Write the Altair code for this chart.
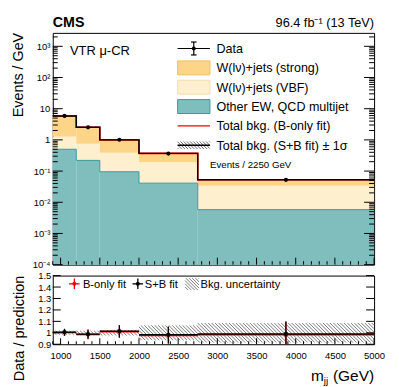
import math
import altair as alt
import pandas as pd

FONT = "Liberation Sans"

# ---------------- data ----------------
bin_lo = [900, 1200, 1500, 2000, 2750]
bin_hi = [1200, 1500, 2000, 2750, 5000]
other_ew_qcd = [0.50, 0.22, 0.095, 0.041, 0.0058]
w_vbf = [0.77, 0.53, 0.295, 0.150, 0.028]
w_strong = [4.58, 1.80, 0.61, 0.179, 0.0192]
data_vals = [5.88, 2.52, 1.01, 0.364, 0.0525]
data_err = [0.17, 0.10, 0.05, 0.026, 0.0058]
ratio_sb = [1.005, 0.988, 1.014, 0.983, 0.990]
ratio_sb_err = [0.030, 0.040, 0.053, 0.073, 0.110]
ratio_b = [1.003, 0.985, 1.010, 0.976, 0.983]
ratio_b_err = [0.031, 0.041, 0.055, 0.075, 0.112]
bkg_unc = [0.018, 0.018, 0.024, 0.065, 0.085]

legend_labels = ["Data", "W(l\u03bd)+jets (strong)", "W(l\u03bd)+jets (VBF)",
                 "Other EW, QCD multijet", "Total bkg. (B-only fit)",
                 "Total bkg. (S+B fit) \u00b1 1\u03c3"]
ratio_legend_labels = ["B-only fit", "S+B fit", "Bkg. uncertainty"]
x_major = [1000, 1500, 2000, 2500, 3000, 3500, 4000, 4500, 5000]
y_major_top = [1e-4, 1e-3, 1e-2, 1e-1, 1, 10, 100, 1000]
y_major_ratio = [0.9, 1.0, 1.1, 1.2, 1.3, 1.4, 1.5]

# ---------------- geometry / style ----------------
W, H_TOP, H_RAT = 323, 233, 69
XMIN, XMAX = 900, 5000
YMIN, YMAX = 1e-4, 2700
RMIN, RMAX = 0.9, 1.5
LMIN, LMAX = math.log10(YMIN), math.log10(YMAX)

STRONG = "#fdd589"
VBF = "#fef0cf"
TEAL = "#80bebe"
TEAL_EDGE = "#2f9a9a"
HATCH = "#5a5a5a"

xs = alt.Scale(domain=[XMIN, XMAX], nice=False, zero=False)
ys_top = alt.Scale(type="log", domain=[YMIN, YMAX], nice=False)
ys_rat = alt.Scale(domain=[RMIN, RMAX], nice=False, zero=False)

y_axis_top = alt.Axis(values=y_major_top,
                      labelExpr="['10\u207b\u2074','10\u207b\u00b3','10\u207b\u00b2','10\u207b\u00b9','1','10','10\u00b2','10\u00b3'][round(log(datum.value)/LN10)+4]",
                      ticks=False, domain=False, grid=False, title=None,
                      labelFont=FONT, labelFontSize=9.5, labelPadding=3,
                      labelFlush=False, labelOverlap=False, labelColor="black")
y_axis_rat = alt.Axis(values=y_major_ratio,
                      labelExpr="abs(datum.value-1)<0.001 ? '1' : format(datum.value, '.1f')",
                      ticks=False, domain=False, grid=False, title=None,
                      labelFont=FONT, labelFontSize=9.5, labelPadding=2,
                      labelFlush=False, labelOverlap=False, labelColor="black")
x_axis_rat = alt.Axis(values=x_major, format="d", ticks=False, domain=False, grid=False,
                      title=None, labelFont=FONT, labelFontSize=9.5, labelPadding=6,
                      labelFlush=False, labelOverlap=False, labelColor="black")


def XT(f):
    return alt.X(f, type="quantitative", scale=xs, axis=None)


def YT(f):
    return alt.Y(f, type="quantitative", scale=ys_top, axis=y_axis_top)


def XR(f):
    return alt.X(f, type="quantitative", scale=xs, axis=x_axis_rat)


def YR(f):
    return alt.Y(f, type="quantitative", scale=ys_rat, axis=y_axis_rat)


def one():
    return pd.DataFrame({"a": [0]})


def text_mark(s, x, y, size, align="left", weight="normal", angle=None, baseline="alphabetic"):
    kw = dict(font=FONT, fontSize=size, align=align, baseline=baseline,
              fontWeight=weight, color="black")
    if angle is not None:
        kw["angle"] = angle
    return alt.Chart(pd.DataFrame({"t": [s]})).mark_text(**kw).encode(
        text="t:N", x=alt.value(x), y=alt.value(y))


def prule(x, x2, y, y2, color="black", width=1.0):
    return alt.Chart(one()).mark_rule(color=color, strokeWidth=width).encode(
        x=alt.value(x), x2=alt.value(x2), y=alt.value(y), y2=alt.value(y2))


def prect(x, x2, y, y2, fill, stroke):
    return alt.Chart(one()).mark_rect(fill=fill, stroke=stroke, strokeWidth=1).encode(
        x=alt.value(x), x2=alt.value(x2), y=alt.value(y), y2=alt.value(y2))


def ppoint(x, y, color):
    return alt.Chart(one()).mark_point(filled=True, size=16, color=color, opacity=1).encode(
        x=alt.value(x), y=alt.value(y))


def hatch_px(x0, x1, y0, y1, s=4.0):
    """diagonal '\\' hatch segments inside a pixel box"""
    segs = []
    c = math.floor((y0 - x1) / s) * s
    while c <= y1 - x0:
        a = max(x0, y0 - c)
        b = min(x1, y1 - c)
        if b - a > 0.3:
            segs.append((a, a + c, b, b + c))
        c += s
    return segs


kx = W / (XMAX - XMIN)
ky = H_RAT / (RMAX - RMIN)


def top_x(px):
    return XMIN + px / kx


def top_y(py):
    return 10 ** (LMAX - py * (LMAX - LMIN) / H_TOP)


def rat_y(py):
    return RMAX - py / ky


# ---------------- tables ----------------
c1 = other_ew_qcd
c2 = [a + b for a, b in zip(other_ew_qcd, w_vbf)]
c3 = [a + b for a, b in zip(c2, w_strong)]
hist = pd.DataFrame({"lo": bin_lo, "hi": bin_hi, "c0": [YMIN] * 5, "c1": c1, "c2": c2, "c3": c3})
centers = [(a + b) / 2 for a, b in zip(bin_lo, bin_hi)]
edges = bin_lo + [bin_hi[-1]]


def step_df(vals):
    return pd.DataFrame({"x": edges, "y": list(vals) + [vals[-1]]})


dat = pd.DataFrame({"x": centers, "y": data_vals,
                    "lo": [d - e for d, e in zip(data_vals, data_err)],
                    "hi": [d + e for d, e in zip(data_vals, data_err)]})

x_minor = [v for v in range(900, 5001, 100) if v % 500 != 0]
y_minor_top = [m * 10.0 ** k for k in range(-4, 4) for m in range(2, 10) if m * 10.0 ** k < YMAX]

# ---------------- top panel ----------------
top_layers = [
    alt.Chart(hist).mark_rect(color=TEAL, strokeWidth=0).encode(x=XT("lo"), x2="hi", y=YT("c1"), y2="c0"),
    alt.Chart(hist).mark_rect(color=VBF, strokeWidth=0).encode(x=XT("lo"), x2="hi", y=YT("c2"), y2="c1"),
    alt.Chart(hist).mark_rect(color=STRONG, strokeWidth=0).encode(x=XT("lo"), x2="hi", y=YT("c3"), y2="c2"),
    alt.Chart(step_df(c1)).mark_line(interpolate="step-after", color=TEAL_EDGE, strokeWidth=1).encode(x=XT("x"), y=YT("y")),
    alt.Chart(step_df(c3)).mark_line(interpolate="step-after", color="red", strokeWidth=1.6).encode(x=XT("x"), y=YT("y")),
    alt.Chart(step_df(c3)).mark_line(interpolate="step-after", color="black", strokeWidth=1.4).encode(x=XT("x"), y=YT("y")),
    alt.Chart(dat).mark_rule(color="black", strokeWidth=1.2).encode(x=XT("x"), y=YT("lo"), y2="hi"),
    alt.Chart(dat).mark_point(filled=True, size=18, color="black", opacity=1).encode(x=XT("x"), y=YT("y")),
    # inward ticks
    alt.Chart(pd.DataFrame({"v": x_major})).mark_rule(color="black").encode(x=XT("v"), y=alt.value(H_TOP), y2=alt.value(H_TOP - 7)),
    alt.Chart(pd.DataFrame({"v": x_minor})).mark_rule(color="black").encode(x=XT("v"), y=alt.value(H_TOP), y2=alt.value(H_TOP - 3.5)),
    alt.Chart(pd.DataFrame({"v": y_major_top})).mark_rule(color="black").encode(y=YT("v"), x=alt.value(0), x2=alt.value(10)),
    alt.Chart(pd.DataFrame({"v": y_major_top})).mark_rule(color="black").encode(y=YT("v"), x=alt.value(W), x2=alt.value(W - 10)),
    alt.Chart(pd.DataFrame({"v": y_minor_top})).mark_rule(color="black").encode(y=YT("v"), x=alt.value(0), x2=alt.value(5)),
    alt.Chart(pd.DataFrame({"v": y_minor_top})).mark_rule(color="black").encode(y=YT("v"), x=alt.value(W), x2=alt.value(W - 5)),
]

# legend (top panel)
LX0, LX1, LTX = 125.5, 158.0, 164.5
rows_y = [15.7 + 19.46 * i for i in range(len(legend_labels))]
cy = rows_y[0]
top_layers += [prule(LX0, LX1, cy, cy, "black", 1.2),
               prule((LX0 + LX1) / 2, (LX0 + LX1) / 2, cy - 6.5, cy + 6.5, "black", 1.2),
               prule((LX0 + LX1) / 2 - 2.8, (LX0 + LX1) / 2 + 2.8, cy - 6.5, cy - 6.5, "black", 1.2),
               prule((LX0 + LX1) / 2 - 2.8, (LX0 + LX1) / 2 + 2.8, cy + 6.5, cy + 6.5, "black", 1.2),
               ppoint((LX0 + LX1) / 2, cy, "black")]
for fill, stroke, cy in [(STRONG, "#f3be5c", rows_y[1]), (VBF, "#f3ddb0", rows_y[2]), (TEAL, "#3a9a9a", rows_y[3])]:
    top_layers.append(prect(LX0, LX1, cy - 7, cy + 7, fill, stroke))
top_layers.append(prule(LX0, LX1, rows_y[4], rows_y[4], "red", 1.2))
cy = rows_y[5]
hrows = [dict(x=top_x(a), x2=top_x(c), y=top_y(b), y2=top_y(d))
         for (a, b, c, d) in hatch_px(LX0, LX1, cy - 3.8, cy + 3.8, 3.2)]
top_layers.append(alt.Chart(pd.DataFrame(hrows)).mark_rule(color=HATCH, strokeWidth=0.9).encode(
    x=XT("x"), x2="x2", y=YT("y"), y2="y2"))
top_layers.append(prule(LX0, LX1, cy, cy, "black", 1.4))
for lab, cy in zip(legend_labels, rows_y):
    top_layers.append(text_mark(lab, LTX, cy + 4.6, 12.6))

top_layers += [
    text_mark("CMS", 0, -5.5, 14.3, weight="bold"),
    text_mark("96.4 fb\u207b\u00b9 (13 TeV)", W, -5.5, 12.8, align="right"),
    text_mark("VTR \u03bc-CR", 17.3, 22, 13),
    text_mark("Events / 2250 GeV", 158, 136, 9.75),
    text_mark("Events / GeV", -29.5, 0, 14.4, align="right", angle=270),
]

top = alt.layer(*top_layers).properties(width=W, height=H_TOP)

# ---------------- ratio panel ----------------
hatch_rows = []
for lo, hi, u in zip(bin_lo, bin_hi, bkg_unc):
    x0, x1 = (lo - XMIN) * kx, (hi - XMIN) * kx
    y0 = (RMAX - min(RMAX, 1 + u)) * ky
    y1 = (RMAX - max(RMIN, 1 - u)) * ky
    for (a, b, c, d) in hatch_px(x0, x1, y0, y1, 3.5):
        hatch_rows.append(dict(x=XMIN + a / kx, x2=XMIN + c / kx, y=rat_y(b), y2=rat_y(d)))
hatch_df = pd.DataFrame(hatch_rows)

rat = pd.DataFrame({"lo": bin_lo, "hi": bin_hi, "c": centers,
                    "rb": ratio_b, "rb_lo": [r - e for r, e in zip(ratio_b, ratio_b_err)],
                    "rb_hi": [r + e for r, e in zip(ratio_b, ratio_b_err)],
                    "rs": ratio_sb, "rs_lo": [r - e for r, e in zip(ratio_sb, ratio_sb_err)],
                    "rs_hi": [r + e for r, e in zip(ratio_sb, ratio_sb_err)]})

rat_layers = [
    alt.Chart(hatch_df).mark_rule(color=HATCH, strokeWidth=0.8).encode(x=XR("x"), x2="x2", y=YR("y"), y2="y2"),
    alt.Chart(rat).mark_rule(color="red", strokeWidth=1.6).encode(x=XR("lo"), x2="hi", y=YR("rb")),
    alt.Chart(rat).mark_rule(color="red", strokeWidth=1.3, clip=True).encode(x=XR("c"), y=YR("rb_lo"), y2="rb_hi"),
    alt.Chart(rat).mark_point(filled=True, size=16, color="red", opacity=1).encode(x=XR("c"), y=YR("rb")),
    alt.Chart(rat).mark_rule(color="black", strokeWidth=1.4).encode(x=XR("lo"), x2="hi", y=YR("rs")),
    alt.Chart(rat).mark_rule(color="black", strokeWidth=1.2, clip=True).encode(x=XR("c"), y=YR("rs_lo"), y2="rs_hi"),
    alt.Chart(rat).mark_point(filled=True, size=18, color="black", opacity=1).encode(x=XR("c"), y=YR("rs")),
    alt.Chart(pd.DataFrame({"v": x_major})).mark_rule(color="black").encode(x=XR("v"), y=alt.value(H_RAT), y2=alt.value(H_RAT - 6)),
    alt.Chart(pd.DataFrame({"v": x_minor})).mark_rule(color="black").encode(x=XR("v"), y=alt.value(H_RAT), y2=alt.value(H_RAT - 3)),
    alt.Chart(pd.DataFrame({"v": y_major_ratio})).mark_rule(color="black").encode(y=YR("v"), x=alt.value(0), x2=alt.value(8)),
    alt.Chart(pd.DataFrame({"v": y_major_ratio})).mark_rule(color="black").encode(y=YR("v"), x=alt.value(W), x2=alt.value(W - 8)),
]

# ratio legend
for cx, col in [(21.7, "red"), (85.5, "black")]:
    rat_layers += [prule(cx - 5.3, cx + 5.3, 8.3, 8.3, col, 1.3),
                   prule(cx, cx, 3.0, 13.6, col, 1.3),
                   ppoint(cx, 8.3, col)]
lh = [dict(x=XMIN + a / kx, x2=XMIN + c / kx, y=rat_y(b), y2=rat_y(d))
      for (a, b, c, d) in hatch_px(133, 147, 2.5, 14.5, 3.2)]
rat_layers.append(alt.Chart(pd.DataFrame(lh)).mark_rule(color=HATCH, strokeWidth=0.8).encode(
    x=XR("x"), x2="x2", y=YR("y"), y2="y2"))
for lab, lx in zip(ratio_legend_labels, [30.3, 92.5, 148.5]):
    rat_layers.append(text_mark(lab, lx, 12.6, 11.2))

rat_layers += [
    text_mark("Data / prediction", -29, 0, 14.6, align="right", angle=270),
    text_mark("m", 259.5, 105.7, 15.5),
    text_mark("jj", 272.5, 108.7, 10),
    text_mark("(GeV)", W, 105.7, 15.5, align="right"),
]

ratio = alt.layer(*rat_layers).properties(width=W, height=H_RAT)

chart = alt.vconcat(top, ratio, spacing=0).properties(
    padding={"left": 3, "top": 7, "right": 5, "bottom": 0},
    background="white",
).configure_view(stroke="black", strokeWidth=1)

chart.save("out.html", embed_options={"renderer": "svg", "actions": False})
